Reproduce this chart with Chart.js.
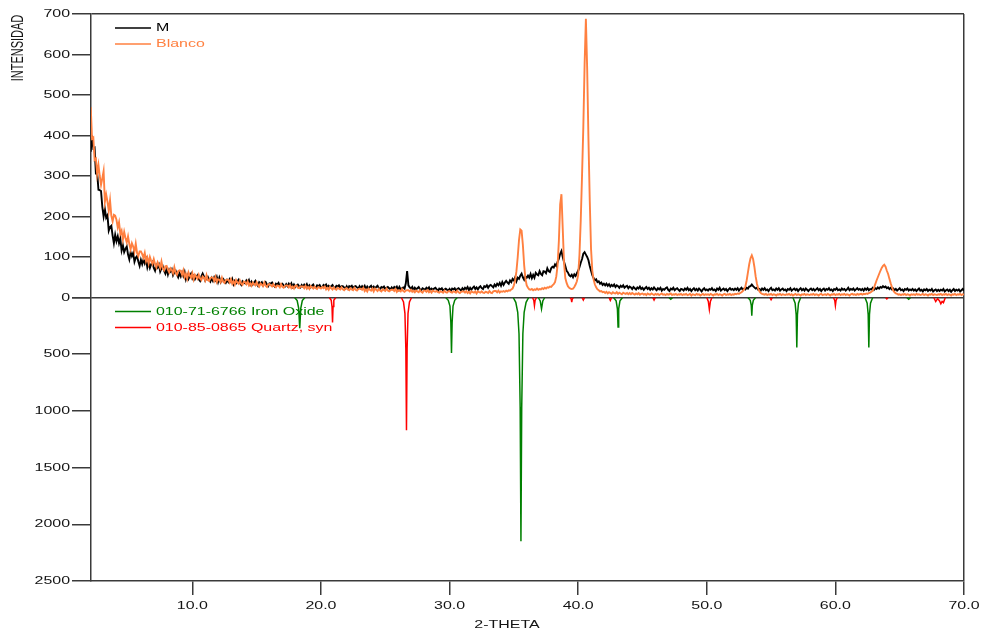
<!DOCTYPE html>
<html lang="es">
<head>
<meta charset="utf-8">
<title>Difractograma M / Blanco</title>
<script src="https://cdn.jsdelivr.net/npm/chart.js@4.4.1/dist/chart.umd.min.js"></script>
<style>
  html, body { margin: 0; padding: 0; background: #fff; }
  #wrap { width: 986px; height: 635px; }
</style>
</head>
<body>
<div id="wrap"><canvas id="xrdChart" width="986" height="635"></canvas></div>
<script>
// Barrido: 2-theta desde 2.1 hasta 70.0 con paso 0.1 (un valor por paso)
const inicioBarrido = 2.1;
const pasoBarrido = 0.1;

// Intensidad muestra M (negro), 20 valores por fila
const muestraM = [
  360, 400, 368, 370, 307, 308, 266, 265, 263, 224, 200, 218, 197, 203, 165, 174, 177, 153, 134, 155, // 2.1
  139, 151, 134, 146, 116, 129, 112, 120, 126, 106, 94, 112, 102, 110, 88, 98, 102, 89, 78, 93,       // 4.1
  82, 94, 84, 94, 74, 86, 73, 82, 87, 73, 66, 80, 74, 81, 64, 72, 77, 66, 59, 71,                     // 6.1
  57, 69, 64, 70, 55, 62, 66, 57, 50, 60, 52, 62, 53, 63, 45, 55, 46, 53, 59, 47,                     // 8.1
  53, 45, 51, 55, 45, 41, 52, 59, 52, 42, 47, 51, 44, 39, 48, 41, 50, 43, 51, 38,                     // 10.1
  49, 38, 44, 46, 40, 36, 43, 38, 45, 39, 46, 33, 41, 35, 40, 44, 36, 31, 40, 37,                     // 12.1
  35, 42, 37, 43, 32, 39, 32, 37, 41, 34, 29, 38, 35, 38, 30, 35, 38, 32, 28, 35,                     // 14.1
  34, 37, 31, 27, 34, 32, 36, 28, 32, 34, 30, 27, 33, 28, 34, 29, 35, 26, 32, 26,                     // 16.1
  30, 32, 28, 25, 31, 27, 32, 28, 33, 25, 30, 25, 29, 32, 26, 24, 30, 28, 31, 25,                     // 18.1
  26, 31, 28, 32, 25, 29, 25, 28, 31, 25, 23, 29, 27, 30, 24, 28, 28, 25, 22, 28,                     // 20.1
  22, 28, 26, 29, 23, 27, 28, 25, 22, 28, 23, 28, 24, 29, 21, 27, 22, 26, 29, 23,                     // 22.1
  27, 22, 26, 29, 23, 21, 26, 24, 27, 21, 24, 26, 23, 20, 25, 21, 26, 23, 27, 19,                     // 24.1
  26, 20, 23, 25, 22, 35, 65, 30, 25, 22, 26, 18, 24, 20, 23, 26, 20, 18, 23, 21,                     // 26.1
  19, 24, 21, 25, 18, 22, 19, 22, 24, 20, 16, 22, 20, 23, 17, 20, 22, 19, 17, 21,                     // 28.1
  16, 22, 20, 23, 17, 21, 23, 20, 17, 23, 19, 24, 21, 26, 18, 24, 19, 24, 27, 21,                     // 30.1
  25, 20, 25, 28, 23, 21, 28, 26, 30, 24, 29, 31, 28, 25, 32, 28, 34, 30, 36, 29,                     // 32.1
  38, 31, 37, 41, 37, 34, 42, 38, 46, 42, 50, 40, 49, 46, 54, 59, 50, 44, 52, 49,                     // 34.1
  54, 49, 58, 48, 56, 49, 61, 57, 55, 65, 58, 55, 65, 64, 60, 72, 65, 63, 72, 76,                     // 36.1
  74, 82, 78, 88, 96, 108, 115, 100, 88, 78, 66, 62, 55, 52, 56, 50, 57, 53, 60, 66,                  // 38.1
  75, 86, 95, 108, 112, 106, 100, 92, 78, 66, 55, 48, 42, 45, 38, 40, 34, 37, 31, 34,                 // 40.1
  30, 34, 29, 33, 27, 31, 28, 32, 26, 30, 28, 24, 29, 26, 30, 24, 27, 29, 23, 27,                     // 42.1
  25, 21, 26, 23, 20, 25, 22, 27, 21, 24, 19, 23, 26, 21, 24, 19, 23, 20, 25, 21,                     // 44.1
  18, 23, 20, 24, 17, 21, 19, 23, 25, 19, 16, 22, 20, 24, 18, 21, 23, 19, 16, 21,                     // 46.1
  20, 17, 22, 19, 24, 18, 21, 16, 20, 23, 18, 21, 17, 22, 19, 15, 20, 23, 18, 20,                     // 48.1
  17, 21, 19, 23, 18, 20, 16, 22, 19, 24, 17, 20, 22, 18, 21, 16, 20, 23, 19, 21,                     // 50.1
  18, 22, 19, 23, 17, 21, 24, 19, 22, 20, 24, 22, 27, 28, 32, 28, 25, 22, 24, 19,                     // 52.1
  21, 17, 22, 19, 23, 18, 20, 16, 21, 24, 18, 20, 17, 22, 19, 23, 17, 20, 22, 18,                     // 54.1
  20, 16, 21, 19, 23, 17, 20, 22, 18, 21, 16, 20, 23, 18, 21, 17, 22, 19, 16, 20,                     // 56.1
  22, 18, 21, 17, 20, 23, 18, 21, 16, 20, 22, 17, 21, 19, 23, 18, 20, 16, 21, 19,                     // 58.1
  23, 18, 20, 17, 22, 19, 21, 17, 20, 24, 18, 21, 19, 22, 17, 20, 23, 19, 21, 18,                     // 60.1
  21, 17, 22, 19, 23, 18, 21, 20, 24, 19, 23, 21, 25, 22, 26, 24, 28, 25, 27, 23,                     // 62.1
  25, 21, 24, 20, 22, 18, 21, 17, 20, 23, 18, 20, 16, 21, 19, 22, 17, 20, 18, 21,                     // 64.1
  17, 20, 16, 19, 22, 17, 19, 15, 20, 18, 21, 16, 19, 17, 21, 15, 18, 20, 16, 19,                     // 66.1
  16, 19, 17, 21, 15, 18, 20, 16, 19, 14, 18, 21, 16, 19, 17, 20, 15, 18, 21, 17                      // 68.1
];

// Intensidad Blanco (naranja), mismo barrido
const blanco = [
  470, 392, 395, 340, 343, 305, 327, 300, 278, 294, 312, 236, 254, 237, 214, 240, 202, 188, 204, 202, // 2.1
  192, 173, 186, 157, 165, 143, 162, 147, 136, 151, 132, 119, 134, 126, 113, 133, 110, 102, 114, 114, // 4.1
  107, 98, 110, 90, 99, 84, 100, 90, 83, 95, 82, 74, 87, 81, 73, 89, 72, 67, 77, 78,                  // 6.1
  69, 62, 72, 68, 60, 75, 61, 56, 65, 67, 66, 56, 67, 50, 58, 46, 62, 54, 49, 60,                     // 8.1
  45, 56, 51, 46, 56, 47, 43, 52, 49, 42, 55, 43, 41, 48, 50, 49, 41, 51, 38, 45,                     // 10.1
  44, 38, 49, 39, 36, 43, 44, 44, 37, 45, 34, 40, 32, 43, 37, 34, 42, 34, 31, 39,                     // 12.1
  38, 33, 40, 30, 35, 29, 37, 33, 30, 38, 31, 27, 35, 32, 28, 37, 29, 26, 32, 33,                     // 14.1
  30, 27, 33, 28, 25, 30, 29, 25, 33, 26, 24, 29, 30, 30, 25, 30, 23, 27, 22, 29,                     // 16.1
  30, 24, 23, 27, 27, 27, 23, 29, 22, 26, 21, 28, 25, 22, 27, 23, 21, 26, 24, 22,                     // 18.1
  26, 23, 27, 20, 24, 19, 26, 23, 20, 25, 21, 19, 24, 22, 20, 25, 20, 18, 22, 23,                     // 20.1
  20, 18, 23, 20, 18, 24, 19, 17, 21, 22, 22, 19, 24, 16, 20, 15, 22, 19, 17, 22,                     // 22.1
  15, 22, 19, 16, 21, 17, 15, 20, 18, 16, 22, 17, 15, 18, 19, 19, 16, 21, 14, 18,                     // 24.1
  17, 15, 21, 16, 14, 17, 18, 18, 15, 19, 14, 17, 13, 17, 15, 13, 18, 14, 12, 17,                     // 26.1
  17, 14, 18, 13, 16, 12, 17, 15, 14, 16, 13, 12, 15, 14, 12, 17, 13, 12, 15, 16,                     // 28.1
  13, 12, 15, 14, 12, 17, 13, 11, 14, 15, 15, 12, 16, 11, 14, 10, 15, 13, 12, 15,                     // 30.1
  10, 15, 13, 12, 15, 12, 11, 14, 13, 11, 16, 12, 11, 15, 16, 16, 13, 17, 12, 15,                     // 32.1
  14, 16, 14, 17, 15, 18, 17, 20, 22, 30, 42, 65, 100, 142, 168, 165, 130, 80, 46, 30,                // 34.1
  24, 20, 19, 21, 18, 20, 19, 22, 19, 21, 20, 23, 21, 24, 22, 25, 24, 27, 26, 30,                     // 36.1
  33, 38, 52, 80, 140, 230, 255, 170, 85, 48, 36, 28, 24, 22, 21, 22, 26, 32, 40, 55,                 // 38.1
  105, 190, 300, 420, 575, 688, 565, 390, 240, 120, 66, 44, 32, 25, 20, 18, 15, 16, 13, 14,           // 40.1
  11, 14, 10, 13, 11, 9, 13, 11, 10, 13, 9, 12, 10, 8, 12, 10, 9, 11, 8, 11,                          // 42.1
  8, 11, 9, 7, 10, 8, 11, 7, 9, 10, 7, 9, 6, 10, 8, 7, 10, 8, 6, 9,                                   // 44.1
  7, 9, 6, 8, 10, 7, 8, 6, 9, 7, 8, 10, 6, 8, 7, 9, 6, 8, 7, 9,                                       // 46.1
  6, 8, 7, 9, 6, 7, 9, 5, 8, 7, 6, 9, 7, 8, 5, 7, 9, 6, 8, 7,                                         // 48.1
  8, 6, 9, 7, 5, 8, 7, 9, 6, 8, 7, 5, 8, 9, 6, 8, 7, 9, 6, 8,                                         // 50.1
  7, 9, 8, 10, 9, 11, 13, 16, 20, 27, 42, 62, 82, 97, 104, 95, 76, 52, 34, 22,                        // 52.1
  15, 11, 9, 8, 7, 9, 6, 8, 7, 9, 6, 8, 7, 5, 8, 7, 9, 6, 8, 7,                                       // 54.1
  6, 8, 7, 9, 6, 8, 5, 7, 9, 6, 8, 7, 5, 8, 7, 9, 6, 8, 7, 6,                                         // 56.1
  8, 7, 9, 6, 8, 7, 5, 8, 9, 6, 7, 8, 6, 9, 7, 5, 8, 7, 9, 6,                                         // 58.1
  8, 7, 9, 6, 8, 7, 9, 6, 8, 7, 5, 8, 9, 7, 8, 6, 9, 7, 8, 9,                                         // 60.1
  7, 9, 8, 10, 9, 11, 12, 14, 17, 24, 33, 42, 50, 58, 66, 73, 78, 81, 76, 66,                         // 62.1
  58, 46, 35, 25, 17, 13, 10, 9, 7, 8, 6, 8, 7, 9, 6, 8, 7, 5, 8, 7,                                  // 64.1
  8, 6, 9, 7, 8, 6, 7, 9, 6, 8, 7, 5, 8, 7, 9, 6, 8, 7, 6, 8,                                         // 66.1
  7, 9, 6, 8, 7, 9, 6, 8, 7, 5, 8, 7, 9, 6, 8, 7, 9, 6, 8, 7                                          // 68.1
];

// Patrones de referencia (panel inferior): un perfil por pico
const oxidoHierro2T = [
  [17.95, 18.15, 18.27, 18.35, 18.43, 18.55, 18.75],
  [29.70, 29.90, 30.03, 30.10, 30.15, 30.20, 30.27, 30.40, 30.60],
  [34.95, 35.15, 35.30, 35.40, 35.49, 35.55, 35.61, 35.70, 35.80, 35.95, 36.15],
  [36.90, 37.05, 37.15, 37.25, 37.40],
  [42.75, 42.95, 43.05, 43.10, 43.15, 43.25, 43.45],
  [47.05, 47.20, 47.35],
  [53.20, 53.38, 53.46, 53.50, 53.54, 53.62, 53.80],
  [56.70, 56.87, 56.95, 57.00, 57.05, 57.13, 57.30],
  [62.30, 62.47, 62.55, 62.60, 62.65, 62.73, 62.90],
  [65.55, 65.70, 65.85]
];
const oxidoHierroI = [
  [0, 27, 95, 270, 95, 27, 0],
  [0, 25, 75, 220, 490, 220, 75, 25, 0],
  [0, 43, 130, 320, 970, 2150, 970, 320, 130, 43, 0],
  [0, 30, 100, 30, 0],
  [0, 30, 100, 260, 100, 30, 0],
  [0, 15, 0],
  [0, 25, 70, 160, 70, 25, 0],
  [0, 50, 150, 440, 150, 50, 0],
  [0, 50, 150, 440, 150, 50, 0],
  [0, 15, 0]
];
const cuarzo2T = [
  [20.65, 20.80, 20.86, 20.90, 20.94, 21.00, 21.15],
  [26.25, 26.42, 26.53, 26.60, 26.65, 26.70, 26.77, 26.88, 27.05],
  [36.45, 36.55, 36.60, 36.65, 36.75],
  [39.38, 39.46, 39.50, 39.54, 39.62],
  [40.30, 40.40, 40.50],
  [42.40, 42.50, 42.60],
  [45.80, 45.90, 46.00],
  [50.00, 50.12, 50.20, 50.28, 50.40],
  [54.90, 55.00, 55.10],
  [59.85, 59.95, 60.00, 60.05, 60.15],
  [63.90, 64.00, 64.10],
  [67.65, 67.80, 67.95, 68.10, 68.20, 68.30, 68.40, 68.55]
];
const cuarzoI = [
  [0, 25, 80, 220, 80, 25, 0],
  [0, 40, 140, 450, 1170, 450, 140, 40, 0],
  [0, 25, 70, 25, 0],
  [0, 15, 40, 15, 0],
  [0, 22, 0],
  [0, 25, 0],
  [0, 22, 0],
  [0, 35, 105, 35, 0],
  [0, 20, 0],
  [0, 25, 70, 25, 0],
  [0, 12, 0],
  [0, 35, 10, 30, 55, 35, 45, 0]
];

// Ejes
const ticks2T = [10, 20, 30, 40, 50, 60, 70];
const ticksIntensidad = [0, 100, 200, 300, 400, 500, 600, 700];
const ticksReferencia = [0, 500, 1000, 1500, 2000, 2500];

const ESTIRAR = 1.45; // el texto original sale ensanchado
const FUENTE = '11px "Liberation Sans", Arial, sans-serif';
const COLOR_EJE = "#3a3a3a";
const COLOR_TEXTO = "#141414";

function barrido(valores) {
  return valores.map((v, i) => ({ x: +(inicioBarrido + i * pasoBarrido).toFixed(2), y: v }));
}

// une los picos, con un hueco (null) entre uno y otro
function perfil(lista2T, listaI) {
  const out = [];
  lista2T.forEach((xs, k) => {
    xs.forEach((x, j) => out.push({ x: x, y: listaI[k][j] }));
    out.push({ x: xs[xs.length - 1], y: null });
  });
  return out;
}

function texto(ctx, txt, x, y, align, color) {
  ctx.save();
  ctx.font = FUENTE;
  ctx.fillStyle = color;
  ctx.textBaseline = "middle";
  ctx.textAlign = "left";
  const w = ctx.measureText(txt).width * ESTIRAR;
  const x0 = align === "right" ? x - w : align === "center" ? x - w / 2 : x;
  ctx.translate(x0, y);
  ctx.scale(ESTIRAR, 1);
  ctx.fillText(txt, 0, 0);
  ctx.restore();
}

function leyenda(ctx, ds, x, y) {
  ctx.save();
  ctx.strokeStyle = ds.borderColor;
  ctx.lineWidth = 1.3;
  ctx.beginPath();
  ctx.moveTo(x, y);
  ctx.lineTo(x + 36, y);
  ctx.stroke();
  ctx.restore();
  texto(ctx, ds.label, x + 41, y, "left", ds.borderColor);
}

// Textos de ejes y leyendas dibujados a mano (ensanchados como el original)
const textosPlugin = {
  id: "textos",
  afterDraw(chart) {
    const { ctx, chartArea: a, scales } = chart;
    const sx = scales.x, sTop = scales.yInt, sBot = scales.yRef;

    sTop.ticks.forEach(t => texto(ctx, String(t.value), a.left - 21, sTop.getPixelForValue(t.value), "right", COLOR_TEXTO));
    sBot.ticks.forEach(t => {
      if (t.value !== 0) texto(ctx, String(t.value), a.left - 21, sBot.getPixelForValue(t.value), "right", COLOR_TEXTO);
    });
    sx.ticks.forEach(t => texto(ctx, t.value.toFixed(1), sx.getPixelForValue(t.value), a.bottom + 25, "center", COLOR_TEXTO));
    texto(ctx, "2-THETA", 507, a.bottom + 44, "center", COLOR_TEXTO);

    // titulo vertical
    ctx.save();
    ctx.font = FUENTE;
    ctx.fillStyle = COLOR_TEXTO;
    ctx.textAlign = "center";
    ctx.textBaseline = "middle";
    ctx.translate(19, 48);
    ctx.rotate(-Math.PI / 2);
    ctx.scale(1, ESTIRAR);
    ctx.fillText("INTENSIDAD", 0, 0);
    ctx.restore();

    const ds = chart.data.datasets;
    leyenda(ctx, ds[0], a.left + 24, a.top + 14);
    leyenda(ctx, ds[1], a.left + 24, a.top + 30);
    const cero = sBot.getPixelForValue(0);
    leyenda(ctx, ds[2], a.left + 24, cero + 14);
    leyenda(ctx, ds[3], a.left + 24, cero + 30);
  }
};

const ctx = document.getElementById("xrdChart").getContext("2d");

new Chart(ctx, {
  type: "line",
  data: {
    datasets: [
      { label: "M", data: barrido(muestraM), borderColor: "#000000", borderWidth: 1.9, yAxisID: "yInt", order: 1 },
      { label: "Blanco", data: barrido(blanco), borderColor: "#ff8040", borderWidth: 1.9, yAxisID: "yInt", order: 0 },
      { label: "010-71-6766 Iron Oxide", data: perfil(oxidoHierro2T, oxidoHierroI), borderColor: "#008000", borderWidth: 1.5, yAxisID: "yRef", order: 2 },
      { label: "010-85-0865 Quartz, syn", data: perfil(cuarzo2T, cuarzoI), borderColor: "#ff0000", borderWidth: 1.5, yAxisID: "yRef", order: 3 }
    ]
  },
  options: {
    responsive: false,
    devicePixelRatio: 1,
    animation: false,
    layout: { padding: { left: 0, right: 22, top: 14, bottom: 0 } },
    elements: { point: { radius: 0 }, line: { tension: 0 } },
    spanGaps: false,
    plugins: { legend: { display: false }, tooltip: { enabled: false } },
    scales: {
      x: {
        type: "linear",
        min: 2.12,
        max: 70,
        afterBuildTicks: s => { s.ticks = ticks2T.map(v => ({ value: v })); },
        afterFit: s => { s.height = 54; },
        ticks: { display: false },
        grid: {
          color: c => (c.tick && c.tick.value === 70 ? COLOR_EJE : "transparent"),
          tickColor: COLOR_EJE,
          tickLength: 14,
          lineWidth: 1.5,
          tickWidth: 1.5
        },
        border: { color: COLOR_EJE, width: 1.5 }
      },
      yInt: {
        type: "linear",
        position: "left",
        stack: "panel",
        stackWeight: 1,
        weight: 2,
        min: 0,
        max: 700,
        afterBuildTicks: s => { s.ticks = ticksIntensidad.map(v => ({ value: v })); },
        afterFit: s => { s.width = 91; },
        ticks: { display: false },
        grid: {
          color: c => (c.tick && (c.tick.value === 0 || c.tick.value === 700) ? COLOR_EJE : "transparent"),
          tickColor: COLOR_EJE,
          tickLength: 19,
          lineWidth: 1.5,
          tickWidth: 1.5
        },
        border: { color: COLOR_EJE, width: 1.5 }
      },
      yRef: {
        type: "linear",
        position: "left",
        stack: "panel",
        stackWeight: 1,
        weight: 1,
        min: 0,
        max: 2500,
        reverse: true,
        afterBuildTicks: s => { s.ticks = ticksReferencia.map(v => ({ value: v })); },
        afterFit: s => { s.width = 91; },
        ticks: { display: false },
        grid: {
          color: "transparent",
          tickColor: COLOR_EJE,
          tickLength: 19,
          lineWidth: 1.5,
          tickWidth: 1.5
        },
        border: { color: COLOR_EJE, width: 1.5 }
      }
    }
  },
  plugins: [textosPlugin]
});
</script>
</body>
</html>
